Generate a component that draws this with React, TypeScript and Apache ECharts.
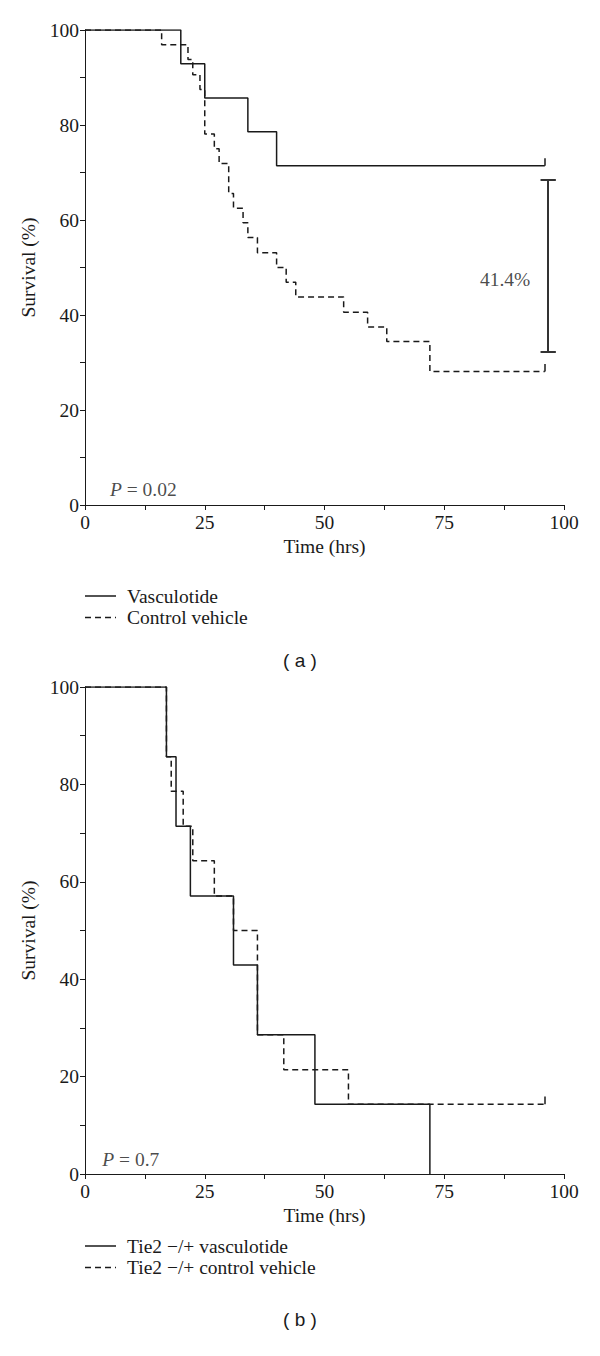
import React, { useEffect, useRef } from "react";
import * as echarts from "echarts";

// Panel (a)
const vascTimesA = [0, 20, 25, 34, 40, 96];
const vascSurvA = [100, 92.9, 85.7, 78.6, 71.4, 71.4];
const ctrlTimesA = [0, 16, 21.5, 22.5, 24, 25, 27, 28, 30, 31, 33, 34, 36, 40, 42, 44, 54, 59, 63, 72, 96];
const ctrlSurvA = [100, 96.9, 93.8, 90.6, 87.5, 78.1, 75, 71.9, 65.6, 62.5, 59.4, 56.3, 53.1, 50, 46.9, 43.8, 40.6, 37.5, 34.4, 28.1, 28.1];
const censorA = [[96, 71.4], [96, 28.1]];
const errBarX = 96.7;
const errBarHigh = 68.4;
const errBarLow = 32.3;
const diffLabel = "41.4%";
const pLabelA = "0.02";

// Panel (b)
const vascTimesB = [0, 17, 19, 22, 31, 36, 48, 72];
const vascSurvB = [100, 85.7, 71.4, 57.1, 42.9, 28.6, 14.3, 0];
const ctrlTimesB = [0, 17, 18, 20.5, 22.5, 27, 31, 36, 41.5, 55, 96];
const ctrlSurvB = [100, 85.7, 78.6, 71.4, 64.3, 57.1, 50, 28.6, 21.4, 14.3, 14.3];
const censorB = [[96, 14.3]];
const pLabelB = "0.7";

const xTicks = [0, 25, 50, 75, 100];
const namesA = ["Vasculotide", "Control vehicle"];
const namesB = ["Tie2 \u2212/+ vasculotide", "Tie2 \u2212/+ control vehicle"];

const SERIF = "Liberation Serif";
const INK = "#1a1a1a";
const FS = 19.5;

const zip = (t: number[], s: number[]) => t.map((v, i) => [v, s[i]]);

export default function App() {
  const ref = useRef<HTMLDivElement>(null);
  useEffect(() => {
    if (!ref.current) return;
    const chart = echarts.init(ref.current, null, { renderer: "svg" });

    const grids = [
      { left: 85, top: 30, width: 479, height: 475 },
      { left: 85, top: 687, width: 479, height: 487 },
    ];

    const mkX = (gi: number) => ({
      type: "value",
      gridIndex: gi,
      min: 0,
      max: 100,
      interval: 25,
      name: "Time (hrs)",
      nameLocation: "middle",
      nameGap: 31,
      nameTextStyle: { fontFamily: SERIF, fontSize: FS, color: INK },
      axisLine: { show: true, lineStyle: { color: INK, width: 1 } },
      axisTick: { show: true, length: 5, lineStyle: { color: INK } },
      minorTick: { show: true, splitNumber: 2, length: 5, lineStyle: { color: INK } },
      splitLine: { show: false },
      axisLabel: {
        fontFamily: SERIF,
        fontSize: FS,
        color: INK,
        margin: 7,
        formatter: (v: number) => (xTicks.includes(v) ? String(v) : ""),
      },
    });
    const mkY = (gi: number) => ({
      type: "value",
      gridIndex: gi,
      min: 0,
      max: 100,
      interval: 20,
      name: "Survival (%)",
      nameLocation: "middle",
      nameGap: 46,
      nameTextStyle: { fontFamily: SERIF, fontSize: FS, color: INK },
      axisLine: { show: true, lineStyle: { color: INK, width: 1 } },
      axisTick: { show: true, length: 5, lineStyle: { color: INK } },
      minorTick: { show: true, splitNumber: 2, length: 5, lineStyle: { color: INK } },
      splitLine: { show: false },
      axisLabel: { fontFamily: SERIF, fontSize: FS, color: INK, margin: 6 },
    });

    const solid = { color: INK, width: 1.5, type: "solid" };
    const dashed = { color: INK, width: 1.5, type: [6, 4] };

    const stepSeries = (name: string, data: number[][], gi: number, ls: any) => ({
      type: "line",
      name,
      xAxisIndex: gi,
      yAxisIndex: gi,
      step: "end",
      symbol: "none",
      data,
      lineStyle: ls,
      z: 3,
    });

    const censorSeries = (pts: number[][], gi: number) => ({
      type: "lines",
      coordinateSystem: "cartesian2d",
      xAxisIndex: gi,
      yAxisIndex: gi,
      lineStyle: { color: INK, width: 1.5, opacity: 1 },
      data: pts.map((p) => ({ coords: [[p[0], p[1]], [p[0], p[1] + 1.6]] })),
      z: 4,
    });

    const textSeries = (pt: number[], formatter: string, gi: number, pos: any) => ({
      type: "scatter",
      xAxisIndex: gi,
      yAxisIndex: gi,
      symbolSize: 0,
      data: [pt],
      silent: true,
      label: {
        show: true,
        position: pos,
        distance: 0,
        formatter,
        fontFamily: SERIF,
        fontSize: FS,
        color: INK,
        rich: {
          i: { fontFamily: SERIF, fontSize: FS, fontStyle: "italic", color: INK },
        },
      },
    });

    const capHalf = 1.6;
    const legendItems = (names: string[], top: number) => {
      const els: any[] = [];
      names.forEach((n, i) => {
        const y = top + i * 21.5;
        els.push({
          type: "line",
          shape: { x1: 85, y1: y, x2: 116, y2: y },
          style: { stroke: INK, lineWidth: 1.5, lineDash: i === 0 ? null : [6, 4] },
        });
        els.push({
          type: "text",
          x: 127,
          y,
          style: { text: n, font: `${FS}px "${SERIF}"`, fill: INK, verticalAlign: "middle" },
        });
      });
      return els;
    };

    const option: any = {
      animation: false,
      backgroundColor: "#ffffff",
      grid: grids,
      xAxis: [mkX(0), mkX(1)],
      yAxis: [mkY(0), mkY(1)],
      series: [
        stepSeries(namesA[0], zip(vascTimesA, vascSurvA), 0, solid),
        stepSeries(namesA[1], zip(ctrlTimesA, ctrlSurvA), 0, dashed),
        censorSeries(censorA, 0),
        {
          type: "lines",
          coordinateSystem: "cartesian2d",
          xAxisIndex: 0,
          yAxisIndex: 0,
          lineStyle: { color: "#333", width: 2, opacity: 1 },
          data: [
            { coords: [[errBarX, errBarHigh], [errBarX, errBarLow]] },
            { coords: [[errBarX - capHalf, errBarHigh], [errBarX + capHalf, errBarHigh]] },
            { coords: [[errBarX - capHalf, errBarLow], [errBarX + capHalf, errBarLow]] },
          ],
          z: 4,
        },
        textSeries([87.7, 47.4], diffLabel, 0, "inside"),
        textSeries([5.2, 3.2], `{i|P} = ${pLabelA}`, 0, "right"),
        stepSeries(namesB[0], zip(vascTimesB, vascSurvB), 1, solid),
        stepSeries(namesB[1], zip(ctrlTimesB, ctrlSurvB), 1, dashed),
        censorSeries(censorB, 1),
        textSeries([3.6, 3.0], `{i|P} = ${pLabelB}`, 1, "right"),
      ],
      graphic: [
        ...legendItems(namesA, 596),
        ...legendItems(namesB, 1246),
        {
          type: "text",
          x: 300,
          y: 660,
          style: { text: "( a )", font: '19px "Liberation Sans"', fill: INK, align: "center", verticalAlign: "middle" },
        },
        {
          type: "text",
          x: 300,
          y: 1319,
          style: { text: "( b )", font: '19px "Liberation Sans"', fill: INK, align: "center", verticalAlign: "middle" },
        },
      ],
    };
    chart.setOption(option);
    return () => chart.dispose();
  }, []);
  return (
    <div
      ref={ref}
      style={{ position: "absolute", left: 0, top: 0, width: 600, height: 1356, background: "#fff" }}
    />
  );
}
